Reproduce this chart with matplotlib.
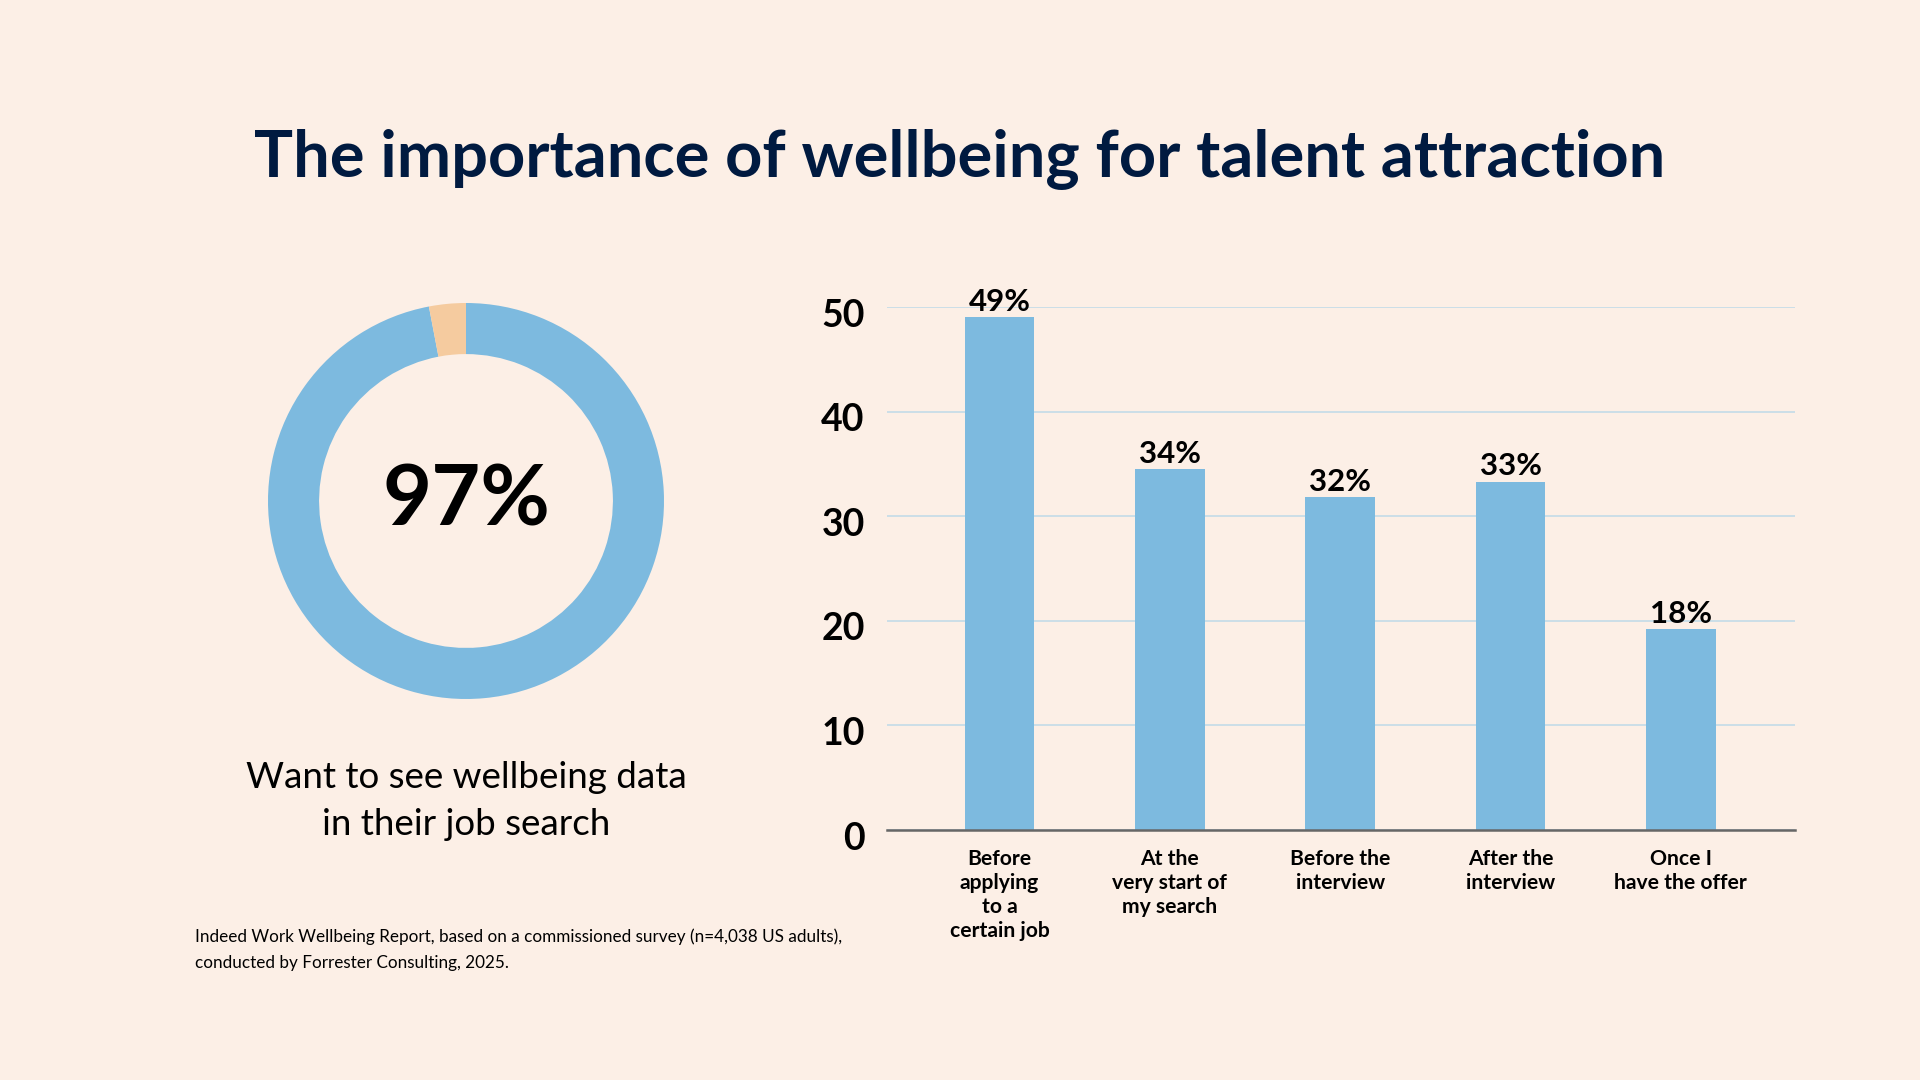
import matplotlib.pyplot as plt
import matplotlib.transforms as mtransforms

plt.rcParams['font.family'] = ['Lato', 'DejaVu Sans']

bg = '#fcefe6'
blue = '#7dbadf'
peach = '#f5cb9f'
navy = '#001a40'

# donut data
donut_values = [97, 3]
donut_label = '97%'
donut_caption = 'Want to see wellbeing data\nin their job search'

# bar data
stages = ['Before\napplying\nto a\ncertain job', 'At the\nvery start of\nmy search',
          'Before the\ninterview', 'After the\ninterview', 'Once I\nhave the offer']
bar_heights = [49, 34.5, 31.8, 33.3, 19.2]
bar_labels = ['49%', '34%', '32%', '33%', '18%']
yticks = [0, 10, 20, 30, 40, 50]

fig = plt.figure(figsize=(19.2, 10.8), dpi=100, facecolor=bg)

fig.text(0.5, 1 - 160/1080, 'The importance of wellbeing for talent attraction',
         ha='center', va='center', fontsize=46.8, fontweight='bold', color=navy)

# donut
cx, cy, r = 466, 501, 198
ax1 = fig.add_axes([(cx - r)/1920, (1080 - cy - r)/1080, 2*r/1920, 2*r/1080])
ax1.set_facecolor(bg)
ax1.pie(donut_values, colors=[blue, peach], startangle=90, counterclock=False,
        radius=1, wedgeprops=dict(width=0.258, linewidth=0))
ax1.set_xlim(-1, 1)
ax1.set_ylim(-1, 1)
ax1.set_aspect('equal')
ax1.axis('off')
ax1.text(0, 0, donut_label, ha='center', va='center', fontsize=61, fontweight='bold', color='black')

fig.text(cx/1920, 1 - 801/1080, donut_caption, ha='center', va='center',
         fontsize=26.5, color='black', linespacing=1.55)

fig.text(195/1920, 1 - 950/1080,
         'Indeed Work Wellbeing Report, based on a commissioned survey (n=4,038 US adults),\n'
         'conducted by Forrester Consulting, 2025.',
         ha='left', va='center', fontsize=12.3, color='black', linespacing=1.75)

# bar chart
ax2 = fig.add_axes([887/1920, (1080 - 830)/1080, (1795 - 887)/1920, (830 - 307)/1080])
ax2.set_facecolor(bg)
x = list(range(len(stages)))
bars = ax2.bar(x, bar_heights, width=0.41, color=blue, zorder=3)
for b, lab in zip(bars, bar_labels):
    ax2.text(b.get_x() + b.get_width()/2, b.get_height() + 0.15, lab, ha='center', va='bottom',
             fontsize=22.5, fontweight='bold', color='black', clip_on=False)

ax2.set_xlim(-0.66, 4.67)
ax2.set_ylim(0, 50)
ax2.set_yticks(yticks)
ax2.set_yticklabels([str(t) for t in yticks], fontsize=27, fontweight='bold')
ax2.set_xticks(x)
ax2.set_xticklabels(stages, fontsize=15.2, fontweight='bold', linespacing=1.25, va='top')
ax2.tick_params(axis='y', length=0, pad=16)
ax2.tick_params(axis='x', length=0, pad=14)
# nudge y labels a bit down like the original
shift = mtransforms.ScaledTranslation(0, -4/72, fig.dpi_scale_trans)
for lbl in ax2.get_yticklabels():
    lbl.set_transform(lbl.get_transform() + shift)
ax2.grid(axis='y', color='#c3dbe8', linewidth=1.2, zorder=0)
for s in ['top', 'right', 'left']:
    ax2.spines[s].set_visible(False)
ax2.spines['bottom'].set_color('#666666')
ax2.spines['bottom'].set_linewidth(1.8)
ax2.spines['bottom'].set_zorder(4)

fig.savefig('out.png', dpi=100, facecolor=bg)
